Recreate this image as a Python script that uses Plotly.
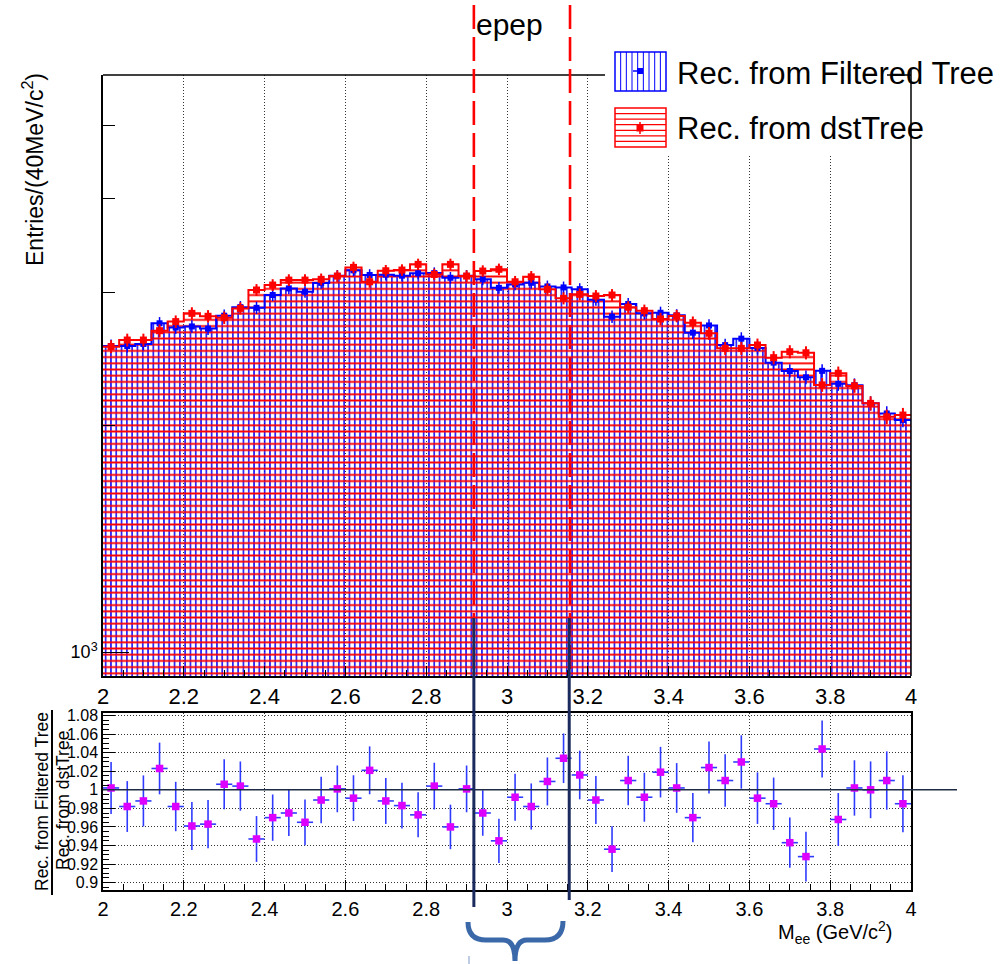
import numpy as np
import plotly.graph_objects as go

# ---------------- data ----------------
bin_edges = np.round(np.arange(2.0, 4.0001, 0.04), 2)
bin_centers = np.round((bin_edges[:-1] + bin_edges[1:]) / 2, 3)
bin_half = 0.02

dst_counts = [2541, 2593, 2593, 2668, 2743, 2813, 2788, 2776, 2856, 3021,
              3067, 3114, 3114, 3121, 3152, 3237, 3098, 3204, 3211, 3267,
              3168, 3267, 3152, 3201, 3218, 3098, 3145, 3027, 2945, 2981,
              2966, 2975, 2866, 2836, 2765, 2790, 2734, 2647, 2528, 2528,
              2554, 2457, 2502, 2494, 2261, 2343, 2254, 2137, 2051, 2062]

filtered_counts = [2546, 2546, 2562, 2729, 2694, 2703, 2685, 2793, 2867, 2861,
                   2975, 3036, 3005, 3087, 3155, 3208, 3163, 3166, 3156, 3179,
                   3181, 3136, 3155, 3121, 3041, 3073, 3088, 3054, 3045, 3029,
                   2933, 2785, 2895, 2813, 2818, 2796, 2652, 2711, 2553, 2604,
                   2531, 2420, 2359, 2314, 2360, 2268, 2259, 2137, 2072, 2031]

ratio = [1.002, 0.982, 0.988, 1.023, 0.982, 0.961, 0.963, 1.006, 1.004, 0.947,
         0.970, 0.975, 0.965, 0.989, 1.001, 0.991, 1.021, 0.988, 0.983, 0.973,
         1.004, 0.960, 1.001, 0.975, 0.945, 0.992, 0.982, 1.009, 1.034, 1.016,
         0.989, 0.936, 1.010, 0.992, 1.019, 1.002, 0.970, 1.024, 1.010, 1.030,
         0.991, 0.985, 0.943, 0.928, 1.044, 0.968, 1.002, 1.000, 1.010, 0.985]

cut_window = [2.918, 3.156]

x_tick_vals = [2.0, 2.2, 2.4, 2.6, 2.8, 3.0, 3.2, 3.4, 3.6, 3.8, 4.0]
ratio_tick_vals = [0.9, 0.92, 0.94, 0.96, 0.98, 1.0, 1.02, 1.04, 1.06, 1.08]
ratio_tick_text = ["0.9", "0.92", "0.94", "0.96", "0.98", "1", "1.02", "1.04", "1.06", "1.08"]

top_label = "epep"
legend_labels = ["Rec. from Filtered Tree", "Rec. from dstTree"]

# ---------------- geometry ----------------
W, H = 1007, 964
ML, MR, MT, MB = 103, 96, 75, 74
PW, PH = W - ML - MR, H - MT - MB
top_dom = [(H - MB - 676) / PH, 1.0]
bot_dom = [0.0, (H - MB - 713) / PH]
top_range = [2.9682, 3.7653]
ratio_range = [0.892, 1.0828]


def px(x):
    return (x - ML) / PW


def py(y):
    return (H - MB - y) / PH


blue = "#0000ff"
red = "#ff0000"
font_family = "Liberation Sans, Arial, Helvetica, sans-serif"

filt = np.array(filtered_counts, float)
dst = np.array(dst_counts, float)
rat = np.array(ratio)
ratio_err = rat * np.sqrt(1.0 / filt + 1.0 / dst)

fig = go.Figure()

# hatched histograms
fig.add_trace(go.Bar(x=bin_centers, y=filtered_counts, width=0.04,
                     marker=dict(color=blue, line=dict(width=0),
                                 pattern=dict(shape="|", size=5.3, solidity=0.28,
                                              fillmode="replace")),
                     xaxis="x", yaxis="y", hoverinfo="skip"))
fig.add_trace(go.Bar(x=bin_centers, y=dst_counts, width=0.04,
                     marker=dict(color=red, line=dict(width=0),
                                 pattern=dict(shape="-", size=6.2, solidity=0.3,
                                              fillmode="replace")),
                     xaxis="x", yaxis="y", hoverinfo="skip"))

# step outlines + points
fig.add_trace(go.Scatter(x=bin_edges, y=filtered_counts + [filtered_counts[-1]],
                         mode="lines", line=dict(color=blue, width=2, shape="hv"),
                         xaxis="x", yaxis="y"))
fig.add_trace(go.Scatter(x=bin_centers, y=filtered_counts, mode="markers",
                         marker=dict(symbol="square", size=6, color=blue),
                         error_y=dict(type="data", array=np.sqrt(filt), color=blue,
                                      thickness=1.5, width=0),
                         xaxis="x", yaxis="y"))
fig.add_trace(go.Scatter(x=bin_edges, y=dst_counts + [dst_counts[-1]],
                         mode="lines", line=dict(color=red, width=2, shape="hv"),
                         xaxis="x", yaxis="y"))
fig.add_trace(go.Scatter(x=bin_centers, y=dst_counts, mode="markers",
                         marker=dict(symbol="square", size=7, color=red),
                         error_y=dict(type="data", array=np.sqrt(dst), color=red,
                                      thickness=2, width=0),
                         xaxis="x", yaxis="y"))

# ratio
fig.add_trace(go.Scatter(x=bin_centers, y=ratio, mode="markers",
                         marker=dict(symbol="square", size=7.5, color="#dd00ff"),
                         error_y=dict(type="data", array=ratio_err, color="#2f3cff",
                                      thickness=1.6, width=0),
                         error_x=dict(type="constant", value=bin_half, color="#2f3cff",
                                      thickness=1.6, width=0),
                         xaxis="x2", yaxis="y2"))

axis_common = dict(showline=True, linecolor="black", linewidth=1.5,
                   ticks="inside", tickcolor="black", zeroline=False)
grid_style = dict(showgrid=True, gridcolor="#333333", griddash="1px,2px", gridwidth=1)

fig.update_layout(
    width=W, height=H,
    margin=dict(l=ML, r=MR, t=MT, b=MB, autoexpand=False),
    plot_bgcolor="white", paper_bgcolor="white",
    showlegend=False, barmode="overlay", bargap=0,
    font=dict(family=font_family, color="black"),
    xaxis=dict(domain=[0, 1], anchor="y", range=[2, 4], tickmode="array",
               tickvals=x_tick_vals, ticklen=10, tickwidth=1,
               minor=dict(tickmode="linear", tick0=2, dtick=0.05, ticks="inside",
                          ticklen=6, tickcolor="black", showgrid=False),
               tickfont=dict(size=22), automargin=False, **grid_style, **axis_common),
    yaxis=dict(domain=top_dom, anchor="x", type="log", range=top_range,
               tickmode="array", tickvals=[1000], ticktext=["10<sup>3</sup>"],
               ticklen=26, tickwidth=1,
               minor=dict(tickmode="array", tickvals=[2000, 3000, 4000, 5000],
                          ticks="inside", ticklen=12, tickcolor="black", showgrid=False),
               showgrid=False, tickfont=dict(size=18), automargin=False, **axis_common),
    xaxis2=dict(domain=[0, 1], anchor="y2", range=[2, 4], tickmode="array",
                tickvals=x_tick_vals, ticklen=10, tickwidth=1, mirror=True,
                minor=dict(tickmode="linear", tick0=2, dtick=0.05, ticks="inside",
                           ticklen=6, tickcolor="black", showgrid=False),
                tickfont=dict(size=20), automargin=False, **grid_style, **axis_common),
    yaxis2=dict(domain=bot_dom, anchor="x2", range=ratio_range, tickmode="array",
                tickvals=ratio_tick_vals, ticktext=ratio_tick_text, ticklen=12,
                tickwidth=1, mirror=True,
                minor=dict(tickmode="linear", tick0=0.9, dtick=0.005, ticks="inside",
                           ticklen=6, tickcolor="black", showgrid=False),
                tickfont=dict(size=16), automargin=False, **grid_style, **axis_common),
)

shapes = []
# top panel frame: top and right
shapes.append(dict(type="line", xref="paper", yref="paper", x0=0, x1=1, y0=1, y1=1,
                   line=dict(color="black", width=1.5)))
shapes.append(dict(type="line", xref="paper", yref="paper", x0=1, x1=1, y0=py(70),
                   y1=top_dom[0], line=dict(color="black", width=1.5)))
# legend white box
shapes.append(dict(type="rect", xref="paper", yref="paper", x0=px(605), x1=px(887),
                   y0=py(155), y1=py(35), fillcolor="white", line=dict(width=0)))
# legend symbol: blue vertical hatch
shapes.append(dict(type="rect", xref="paper", yref="paper", x0=px(615), x1=px(666),
                   y0=py(91), y1=py(52), line=dict(color=blue, width=1.5)))
for k in range(1, 9):
    xx = 615 + k * 5.67
    shapes.append(dict(type="line", xref="paper", yref="paper", x0=px(xx), x1=px(xx),
                       y0=py(91), y1=py(52), line=dict(color=blue, width=1)))
shapes.append(dict(type="line", xref="paper", yref="paper", x0=px(633), x1=px(640),
                   y0=py(71), y1=py(71), line=dict(color=blue, width=1.5)))
shapes.append(dict(type="rect", xref="paper", yref="paper", x0=px(637), x1=px(643),
                   y0=py(74), y1=py(68), fillcolor=blue, line=dict(width=0)))
# legend symbol: red horizontal hatch
shapes.append(dict(type="rect", xref="paper", yref="paper", x0=px(615), x1=px(666),
                   y0=py(147), y1=py(108), line=dict(color=red, width=1.5)))
for k in range(1, 7):
    yy = 108 + k * 5.57
    shapes.append(dict(type="line", xref="paper", yref="paper", x0=px(615), x1=px(666),
                       y0=py(yy), y1=py(yy), line=dict(color=red, width=1.2)))
shapes.append(dict(type="line", xref="paper", yref="paper", x0=px(640), x1=px(640),
                   y0=py(122), y1=py(134), line=dict(color=red, width=1.5)))
shapes.append(dict(type="rect", xref="paper", yref="paper", x0=px(636.5), x1=px(643.5),
                   y0=py(131.5), y1=py(124.5), fillcolor=red, line=dict(width=0)))
# cut window (red dashed)
for xc in cut_window:
    shapes.append(dict(type="line", xref="x", yref="paper", x0=xc, x1=xc,
                       y0=py(5), y1=top_dom[0],
                       line=dict(color=red, width=2.6, dash="24px,8px")))
# ratio = 1 line, extending beyond frame
y_one = bot_dom[1] * (1.0 - ratio_range[0]) / (ratio_range[1] - ratio_range[0])
shapes.append(dict(type="line", xref="paper", yref="paper", x0=0, x1=px(957),
                   y0=y_one, y1=y_one, line=dict(color="#1e2b45", width=1.5)))
# navy window markers
shapes.append(dict(type="line", xref="x", yref="paper", x0=cut_window[0], x1=cut_window[0],
                   y0=py(618), y1=py(907), line=dict(color="#1b2a5c", width=3)))
shapes.append(dict(type="line", xref="x", yref="paper", x0=cut_window[1] - 0.002,
                   x1=cut_window[1] - 0.002,
                   y0=py(618), y1=py(900), line=dict(color="#1b2a5c", width=3)))
# brace
brace = (f"M {px(468)},{py(922)} Q {px(468)},{py(940)} {px(486)},{py(940)} "
         f"L {px(503)},{py(940)} Q {px(515)},{py(940)} {px(515)},{py(961)} "
         f"Q {px(515)},{py(940)} {px(527)},{py(940)} L {px(545)},{py(940)} "
         f"Q {px(563)},{py(940)} {px(563)},{py(921)}")
shapes.append(dict(type="path", xref="paper", yref="paper", path=brace,
                   line=dict(color="#3a68a8", width=5)))
shapes.append(dict(type="line", xref="paper", yref="paper", x0=px(469), x1=px(469),
                   y0=py(956), y1=py(964), line=dict(color="#a9bbdb", width=1.5)))
# fraction bar of ratio y title
shapes.append(dict(type="line", xref="paper", yref="paper", x0=px(52), x1=px(52),
                   y0=py(710), y1=py(895), line=dict(color="black", width=2)))
fig.update_layout(shapes=shapes)

ann = []
ann.append(dict(text="Entries/(40MeV/c<sup>2</sup>)", xref="paper", yref="paper",
                x=px(33), y=py(170), xanchor="center", yanchor="middle",
                textangle=-90, showarrow=False, font=dict(size=23)))
ann.append(dict(text="M<sub>ee</sub> (GeV/c<sup>2</sup>)", xref="paper", yref="paper",
                x=px(895), y=py(933), xanchor="right", yanchor="middle",
                showarrow=False, font=dict(size=20)))
ann.append(dict(text=legend_labels[0], xref="paper", yref="paper",
                x=px(42), y=py(802), xanchor="center", yanchor="middle",
                textangle=-90, showarrow=False, font=dict(size=17.5)))
ann.append(dict(text=legend_labels[1], xref="paper", yref="paper",
                x=px(63), y=py(801), xanchor="center", yanchor="middle",
                textangle=-90, showarrow=False, font=dict(size=17.5)))
ann.append(dict(text=top_label, xref="paper", yref="paper", x=px(474), y=py(25),
                xanchor="left", yanchor="middle", showarrow=False, font=dict(size=30)))
ann.append(dict(text=legend_labels[0], xref="paper", yref="paper", x=px(675), y=py(73),
                xanchor="left", yanchor="middle", showarrow=False, font=dict(size=31)))
ann.append(dict(text=legend_labels[1], xref="paper", yref="paper", x=px(675), y=py(129),
                xanchor="left", yanchor="middle", showarrow=False, font=dict(size=31)))
fig.update_layout(annotations=ann)

fig.write_html("out.html")
